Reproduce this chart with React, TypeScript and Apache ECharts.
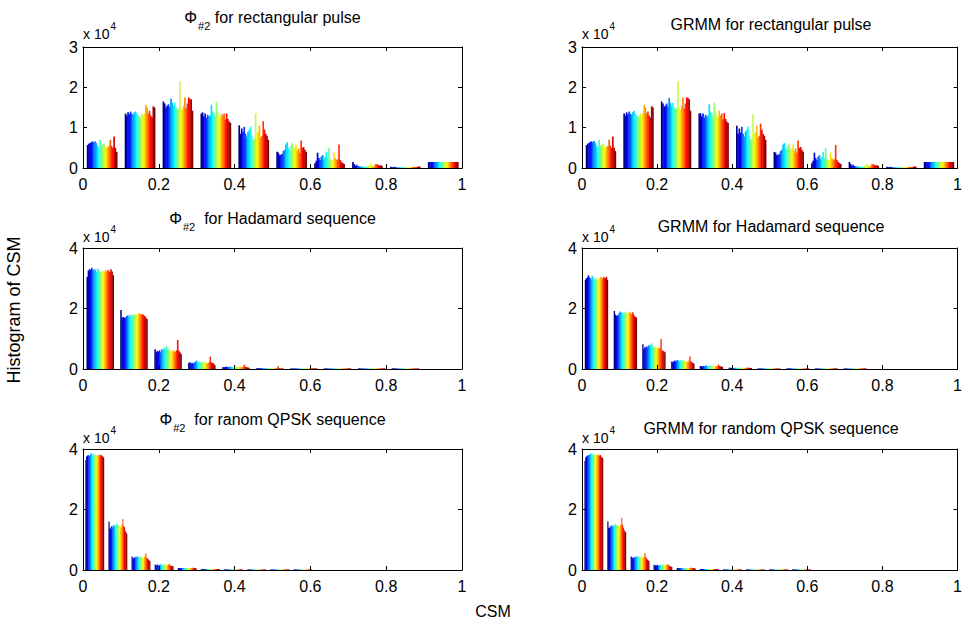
import React, { useEffect, useRef } from "react";
import * as echarts from "echarts";

// ---------------- data (counts in units of 10^4) ----------------
const N_SERIES = 24;
const X_MIN = 0;
const X_MAX = 1;
const X_STEP = 0.2;

// bin centres of each histogram
const RECT_CENTERS = [0.05, 0.15, 0.25, 0.35, 0.45, 0.55, 0.65, 0.75, 0.85, 0.95];
const RECT_BIN_WIDTH = 0.1;
const HAD_PHI_CENTERS = [0.045, 0.134, 0.224, 0.313, 0.403, 0.492, 0.582, 0.671, 0.761, 0.85];
const HAD_PHI_BIN_WIDTH = 0.0895;
const HAD_GRMM_CENTERS = [0.038, 0.115, 0.191, 0.268, 0.344, 0.421, 0.497, 0.574, 0.65, 0.727];
const HAD_GRMM_BIN_WIDTH = 0.0765;
const QPSK_PHI_CENTERS = [0.0305, 0.0915, 0.1525, 0.2135, 0.2745, 0.3355, 0.3965, 0.4575, 0.5185, 0.5795];
const QPSK_PHI_BIN_WIDTH = 0.061;
const QPSK_GRMM_CENTERS = [0.031, 0.092, 0.154, 0.215, 0.277, 0.338, 0.4, 0.461, 0.523, 0.584];
const QPSK_GRMM_BIN_WIDTH = 0.0615;

// one row per bin, one value per series
const RECT_PHI = [
  [0.57, 0.6, 0.62, 0.64, 0.66, 0.64, 0.66, 0.62, 0.55, 0.5, 0.7, 0.55, 0.58, 0.6, 0.55, 0.5, 0.52, 0.55, 0.7, 0.55, 0.5, 0.78, 0.5, 0.4],
  [1.35, 1.3, 1.38, 1.33, 1.4, 1.35, 1.32, 1.38, 1.4, 1.35, 1.3, 1.28, 1.25, 1.35, 1.3, 1.35, 1.57, 1.5, 1.35, 1.42, 1.3, 1.25, 1.53, 1.5],
  [1.65, 1.6, 1.5, 1.55, 1.58, 1.52, 1.72, 1.62, 1.55, 1.62, 1.5, 1.45, 1.48, 2.15, 1.5, 1.45, 1.55, 1.75, 1.48, 1.6, 1.75, 1.72, 1.7, 1.42],
  [1.35, 1.38, 1.28, 1.35, 1.25, 1.32, 1.28, 1.3, 1.57, 1.4, 1.35, 1.28, 1.64, 1.4, 1.3, 1.25, 1.35, 1.3, 1.35, 1.2, 1.35, 1.22, 1.15, 1.12],
  [1.06, 0.85, 0.98, 0.9, 1.02, 0.85, 0.78, 0.9, 0.95, 1.03, 0.8, 0.7, 0.72, 1.36, 0.85, 0.9, 1.05, 0.75, 0.8, 1.16, 0.95, 0.85, 0.8, 0.7],
  [0.4, 0.38, 0.32, 0.33, 0.35, 0.42, 0.45, 0.58, 0.64, 0.5, 0.45, 0.55, 0.63, 0.45, 0.5, 0.58, 0.42, 0.48, 0.38, 0.68, 0.5, 0.52, 0.45, 0.4],
  [0.12, 0.18, 0.38, 0.25, 0.2, 0.28, 0.32, 0.22, 0.28, 0.4, 0.25, 0.5, 0.22, 0.2, 0.18, 0.38, 0.25, 0.2, 0.22, 0.58, 0.2, 0.15, 0.12, 0.1],
  [0.15, 0.1, 0.06, 0.08, 0.05, 0.04, 0.03, 0.04, 0.03, 0.04, 0.03, 0.03, 0.05, 0.06, 0.12, 0.06, 0.05, 0.04, 0.1, 0.09, 0.08, 0.06, 0.07, 0.05],
  [0.03, 0.02, 0.02, 0.03, 0.02, 0.02, 0.01, 0.02, 0.02, 0.01, 0.02, 0.02, 0.01, 0.02, 0.02, 0.01, 0.02, 0.02, 0.03, 0.02, 0.02, 0.03, 0.04, 0.03],
  [0.15, 0.15, 0.15, 0.15, 0.15, 0.15, 0.15, 0.15, 0.15, 0.15, 0.15, 0.15, 0.15, 0.15, 0.15, 0.15, 0.15, 0.15, 0.15, 0.15, 0.15, 0.15, 0.15, 0.15],
];

const RECT_GRMM = [
  [0.57, 0.6, 0.62, 0.65, 0.66, 0.64, 0.67, 0.62, 0.55, 0.5, 0.7, 0.55, 0.58, 0.6, 0.55, 0.5, 0.52, 0.55, 0.7, 0.55, 0.5, 0.78, 0.5, 0.42],
  [1.35, 1.3, 1.38, 1.33, 1.4, 1.35, 1.32, 1.38, 1.42, 1.35, 1.3, 1.28, 1.25, 1.35, 1.3, 1.35, 1.57, 1.5, 1.35, 1.4, 1.3, 1.25, 1.53, 1.5],
  [1.65, 1.6, 1.52, 1.55, 1.6, 1.52, 1.74, 1.62, 1.55, 1.62, 1.5, 1.45, 1.48, 2.15, 1.5, 1.45, 1.55, 1.75, 1.48, 1.6, 1.75, 1.74, 1.7, 1.42],
  [1.35, 1.36, 1.28, 1.35, 1.25, 1.32, 1.28, 1.3, 1.58, 1.4, 1.35, 1.28, 1.62, 1.4, 1.3, 1.25, 1.42, 1.3, 1.35, 1.2, 1.36, 1.22, 1.15, 1.12],
  [1.05, 0.85, 0.98, 0.88, 1.02, 0.85, 0.78, 0.9, 0.95, 1.03, 0.8, 0.7, 0.72, 1.33, 0.85, 0.9, 1.05, 0.75, 0.8, 1.1, 0.95, 0.85, 0.8, 0.7],
  [0.4, 0.38, 0.32, 0.33, 0.35, 0.42, 0.45, 0.58, 0.62, 0.5, 0.45, 0.55, 0.6, 0.45, 0.5, 0.58, 0.42, 0.48, 0.38, 0.68, 0.5, 0.52, 0.45, 0.4],
  [0.12, 0.18, 0.38, 0.25, 0.2, 0.28, 0.32, 0.22, 0.28, 0.4, 0.25, 0.5, 0.22, 0.2, 0.18, 0.38, 0.25, 0.2, 0.22, 0.57, 0.2, 0.15, 0.12, 0.1],
  [0.15, 0.1, 0.06, 0.08, 0.05, 0.04, 0.03, 0.04, 0.03, 0.04, 0.03, 0.03, 0.05, 0.06, 0.1, 0.06, 0.05, 0.04, 0.1, 0.09, 0.08, 0.06, 0.07, 0.05],
  [0.03, 0.02, 0.02, 0.03, 0.02, 0.02, 0.01, 0.02, 0.02, 0.01, 0.02, 0.02, 0.01, 0.02, 0.02, 0.01, 0.02, 0.02, 0.03, 0.02, 0.02, 0.03, 0.04, 0.03],
  [0.15, 0.15, 0.15, 0.15, 0.15, 0.15, 0.15, 0.15, 0.15, 0.15, 0.15, 0.15, 0.15, 0.15, 0.15, 0.15, 0.15, 0.15, 0.15, 0.15, 0.15, 0.15, 0.15, 0.15],
];

const HAD_PHI = [
  [3.05, 3.25, 3.3, 3.28, 3.35, 3.3, 3.25, 3.3, 3.2, 3.32, 3.28, 3.22, 3.18, 3.22, 3.25, 3.2, 3.26, 3.22, 3.28, 3.25, 3.2, 3.3, 3.22, 3.1],
  [1.95, 1.7, 1.72, 1.7, 1.7, 1.75, 1.78, 1.72, 1.8, 1.75, 1.78, 1.8, 1.78, 1.82, 1.8, 1.78, 1.85, 1.82, 1.8, 1.82, 1.78, 1.75, 1.7, 1.65],
  [0.65, 0.55, 0.6, 0.58, 0.62, 0.55, 0.65, 0.62, 0.7, 0.65, 0.76, 0.7, 0.65, 0.6, 0.55, 0.62, 0.58, 0.6, 0.55, 0.62, 0.96, 0.6, 0.55, 0.5],
  [0.2, 0.22, 0.18, 0.2, 0.18, 0.22, 0.25, 0.28, 0.22, 0.25, 0.22, 0.2, 0.22, 0.25, 0.2, 0.22, 0.18, 0.2, 0.22, 0.41, 0.22, 0.2, 0.18, 0.12],
  [0.06, 0.07, 0.06, 0.08, 0.07, 0.06, 0.07, 0.08, 0.07, 0.06, 0.07, 0.08, 0.07, 0.06, 0.07, 0.08, 0.07, 0.06, 0.08, 0.14, 0.07, 0.06, 0.05, 0.04],
  [0.02, 0.03, 0.02, 0.03, 0.02, 0.03, 0.02, 0.03, 0.02, 0.03, 0.02, 0.03, 0.02, 0.03, 0.02, 0.03, 0.02, 0.03, 0.02, 0.09, 0.03, 0.02, 0.02, 0.02],
  [0.02, 0.02, 0.02, 0.02, 0.02, 0.02, 0.02, 0.02, 0.02, 0.02, 0.02, 0.02, 0.02, 0.02, 0.02, 0.02, 0.02, 0.02, 0.02, 0.03, 0.02, 0.02, 0.02, 0.02],
  [0.02, 0.02, 0.02, 0.02, 0.02, 0.02, 0.02, 0.02, 0.02, 0.02, 0.02, 0.02, 0.02, 0.02, 0.02, 0.02, 0.02, 0.02, 0.02, 0.02, 0.02, 0.02, 0.02, 0.02],
  [0.02, 0.02, 0.02, 0.02, 0.02, 0.02, 0.02, 0.02, 0.02, 0.02, 0.02, 0.02, 0.02, 0.02, 0.02, 0.02, 0.02, 0.02, 0.02, 0.02, 0.02, 0.02, 0.02, 0.02],
  [0.02, 0.02, 0.02, 0.02, 0.02, 0.02, 0.02, 0.02, 0.02, 0.02, 0.02, 0.02, 0.02, 0.02, 0.02, 0.02, 0.02, 0.02, 0.02, 0.02, 0.02, 0.02, 0.02, 0.02],
];

const HAD_GRMM = [
  [2.95, 3.0, 3.02, 3.1, 3.05, 3.0, 2.95, 3.08, 3.02, 2.95, 3.0, 2.92, 2.98, 3.02, 2.95, 3.0, 3.05, 3.02, 2.98, 3.05, 3.02, 3.0, 3.05, 2.95],
  [1.92, 1.8, 1.75, 1.78, 1.78, 1.85, 1.9, 1.85, 1.88, 1.85, 1.82, 1.88, 1.85, 1.88, 1.82, 1.85, 1.9, 1.85, 1.8, 1.88, 1.82, 1.75, 1.72, 1.7],
  [0.82, 0.65, 0.72, 0.7, 0.75, 0.72, 0.78, 0.8, 0.75, 0.85, 0.8, 0.72, 0.7, 0.75, 0.72, 0.65, 0.7, 0.68, 0.7, 0.99, 0.62, 0.6, 0.58, 0.55],
  [0.25, 0.22, 0.25, 0.28, 0.26, 0.28, 0.3, 0.28, 0.25, 0.3, 0.28, 0.25, 0.3, 0.28, 0.25, 0.22, 0.25, 0.22, 0.28, 0.41, 0.25, 0.22, 0.2, 0.18],
  [0.1, 0.09, 0.08, 0.1, 0.09, 0.1, 0.12, 0.1, 0.09, 0.1, 0.11, 0.1, 0.09, 0.08, 0.1, 0.09, 0.08, 0.1, 0.09, 0.15, 0.1, 0.09, 0.08, 0.07],
  [0.04, 0.04, 0.03, 0.04, 0.04, 0.03, 0.04, 0.04, 0.03, 0.04, 0.04, 0.03, 0.04, 0.04, 0.03, 0.04, 0.04, 0.03, 0.04, 0.05, 0.04, 0.03, 0.04, 0.03],
  [0.02, 0.02, 0.02, 0.02, 0.02, 0.02, 0.02, 0.02, 0.02, 0.02, 0.02, 0.02, 0.02, 0.02, 0.02, 0.02, 0.02, 0.02, 0.02, 0.03, 0.02, 0.02, 0.02, 0.02],
  [0.02, 0.02, 0.02, 0.02, 0.02, 0.02, 0.02, 0.02, 0.02, 0.02, 0.02, 0.02, 0.02, 0.02, 0.02, 0.02, 0.02, 0.02, 0.02, 0.02, 0.02, 0.02, 0.02, 0.02],
  [0.02, 0.02, 0.02, 0.02, 0.02, 0.02, 0.02, 0.02, 0.02, 0.02, 0.02, 0.02, 0.02, 0.02, 0.02, 0.02, 0.02, 0.02, 0.02, 0.02, 0.02, 0.02, 0.02, 0.02],
  [0.02, 0.02, 0.02, 0.02, 0.02, 0.02, 0.02, 0.02, 0.02, 0.02, 0.02, 0.02, 0.02, 0.02, 0.02, 0.02, 0.02, 0.02, 0.02, 0.02, 0.02, 0.02, 0.02, 0.02],
];

const QPSK_PHI = [
  [3.64, 3.75, 3.78, 3.8, 3.75, 3.78, 3.82, 3.85, 3.8, 3.86, 3.8, 3.78, 3.82, 3.8, 3.75, 3.82, 3.78, 3.8, 3.82, 3.78, 3.8, 3.78, 3.75, 3.72],
  [1.6, 1.4, 1.35, 1.45, 1.38, 1.45, 1.48, 1.42, 1.5, 1.45, 1.55, 1.48, 1.5, 1.45, 1.48, 1.42, 1.4, 1.5, 1.69, 1.45, 1.42, 1.3, 1.25, 1.2],
  [0.45, 0.4, 0.38, 0.42, 0.4, 0.45, 0.42, 0.45, 0.44, 0.42, 0.4, 0.45, 0.42, 0.4, 0.42, 0.4, 0.45, 0.42, 0.55, 0.4, 0.38, 0.35, 0.32, 0.3],
  [0.18, 0.15, 0.16, 0.18, 0.16, 0.15, 0.17, 0.18, 0.16, 0.18, 0.16, 0.15, 0.18, 0.2, 0.16, 0.17, 0.15, 0.18, 0.2, 0.16, 0.15, 0.13, 0.12, 0.12],
  [0.07, 0.07, 0.06, 0.07, 0.07, 0.06, 0.07, 0.07, 0.06, 0.07, 0.07, 0.06, 0.07, 0.07, 0.06, 0.07, 0.07, 0.06, 0.08, 0.07, 0.06, 0.07, 0.06, 0.05],
  [0.03, 0.03, 0.03, 0.03, 0.03, 0.03, 0.03, 0.03, 0.03, 0.03, 0.03, 0.03, 0.03, 0.03, 0.03, 0.03, 0.03, 0.03, 0.03, 0.03, 0.03, 0.03, 0.03, 0.03],
  [0.02, 0.02, 0.02, 0.02, 0.02, 0.02, 0.02, 0.02, 0.02, 0.02, 0.02, 0.02, 0.02, 0.02, 0.02, 0.02, 0.02, 0.02, 0.02, 0.02, 0.02, 0.02, 0.02, 0.02],
  [0.02, 0.02, 0.02, 0.02, 0.02, 0.02, 0.02, 0.02, 0.02, 0.02, 0.02, 0.02, 0.02, 0.02, 0.02, 0.02, 0.02, 0.02, 0.02, 0.02, 0.02, 0.02, 0.02, 0.02],
  [0.02, 0.02, 0.02, 0.02, 0.02, 0.02, 0.02, 0.02, 0.02, 0.02, 0.02, 0.02, 0.02, 0.02, 0.02, 0.02, 0.02, 0.02, 0.02, 0.02, 0.02, 0.02, 0.02, 0.02],
  [0.02, 0.02, 0.02, 0.02, 0.02, 0.02, 0.02, 0.02, 0.02, 0.02, 0.02, 0.02, 0.02, 0.02, 0.02, 0.02, 0.02, 0.02, 0.02, 0.02, 0.02, 0.02, 0.02, 0.02],
];

const QPSK_GRMM = [
  [3.6, 3.72, 3.75, 3.78, 3.8, 3.75, 3.8, 3.85, 3.82, 3.86, 3.82, 3.78, 3.8, 3.82, 3.76, 3.8, 3.78, 3.82, 3.8, 3.76, 3.8, 3.75, 3.72, 3.7],
  [1.6, 1.4, 1.38, 1.45, 1.4, 1.48, 1.45, 1.42, 1.5, 1.48, 1.52, 1.48, 1.5, 1.45, 1.48, 1.42, 1.45, 1.5, 1.73, 1.5, 1.4, 1.32, 1.28, 1.25],
  [0.45, 0.42, 0.38, 0.4, 0.42, 0.44, 0.4, 0.45, 0.44, 0.42, 0.45, 0.44, 0.42, 0.4, 0.45, 0.42, 0.4, 0.48, 0.56, 0.42, 0.38, 0.35, 0.32, 0.3],
  [0.17, 0.16, 0.15, 0.16, 0.17, 0.16, 0.15, 0.16, 0.17, 0.16, 0.15, 0.16, 0.17, 0.18, 0.16, 0.15, 0.16, 0.18, 0.2, 0.15, 0.14, 0.12, 0.11, 0.1],
  [0.07, 0.07, 0.07, 0.06, 0.07, 0.07, 0.06, 0.07, 0.07, 0.06, 0.07, 0.07, 0.06, 0.07, 0.07, 0.06, 0.07, 0.07, 0.08, 0.06, 0.07, 0.06, 0.06, 0.05],
  [0.03, 0.03, 0.03, 0.03, 0.03, 0.03, 0.03, 0.03, 0.03, 0.03, 0.03, 0.03, 0.03, 0.03, 0.03, 0.03, 0.03, 0.03, 0.03, 0.03, 0.03, 0.03, 0.03, 0.03],
  [0.02, 0.02, 0.02, 0.02, 0.02, 0.02, 0.02, 0.02, 0.02, 0.02, 0.02, 0.02, 0.02, 0.02, 0.02, 0.02, 0.02, 0.02, 0.02, 0.02, 0.02, 0.02, 0.02, 0.02],
  [0.02, 0.02, 0.02, 0.02, 0.02, 0.02, 0.02, 0.02, 0.02, 0.02, 0.02, 0.02, 0.02, 0.02, 0.02, 0.02, 0.02, 0.02, 0.02, 0.02, 0.02, 0.02, 0.02, 0.02],
  [0.02, 0.02, 0.02, 0.02, 0.02, 0.02, 0.02, 0.02, 0.02, 0.02, 0.02, 0.02, 0.02, 0.02, 0.02, 0.02, 0.02, 0.02, 0.02, 0.02, 0.02, 0.02, 0.02, 0.02],
  [0.02, 0.02, 0.02, 0.02, 0.02, 0.02, 0.02, 0.02, 0.02, 0.02, 0.02, 0.02, 0.02, 0.02, 0.02, 0.02, 0.02, 0.02, 0.02, 0.02, 0.02, 0.02, 0.02, 0.02],
];

// ---------------- styling / layout ----------------
const FONT = "'Liberation Sans', Arial, Helvetica, sans-serif";
const GROUP_FRACTION = 0.8;
const PLOT_H = 121;

function clamp01(v: number) {
  return Math.max(0, Math.min(1, v));
}
function jet(t: number) {
  const r = clamp01(1.5 - Math.abs(4 * t - 3));
  const g = clamp01(1.5 - Math.abs(4 * t - 2));
  const b = clamp01(1.5 - Math.abs(4 * t - 1));
  return `rgb(${Math.round(r * 255)},${Math.round(g * 255)},${Math.round(b * 255)})`;
}
const COLORS = Array.from({ length: N_SERIES }, (_, i) => jet(i / (N_SERIES - 1)));

type Panel = {
  phi: boolean;
  title: string;
  data: number[][];
  centers: number[];
  binWidth: number;
  yMax: number;
  yInterval: number;
  left: number;
  top: number;
  width: number;
  titleY: number;
  expY: number;
};

const PANELS: Panel[] = [
  { phi: true, title: " for rectangular pulse", data: RECT_PHI, centers: RECT_CENTERS, binWidth: RECT_BIN_WIDTH, yMax: 3, yInterval: 1, left: 83, top: 47, width: 379, titleY: 9, expY: 21.5 },
  { phi: false, title: "GRMM for rectangular pulse", data: RECT_GRMM, centers: RECT_CENTERS, binWidth: RECT_BIN_WIDTH, yMax: 3, yInterval: 1, left: 582, top: 47, width: 378, titleY: 24, expY: 21.5 },
  { phi: true, title: "  for Hadamard sequence", data: HAD_PHI, centers: HAD_PHI_CENTERS, binWidth: HAD_PHI_BIN_WIDTH, yMax: 4, yInterval: 2, left: 83, top: 248, width: 379, titleY: 210, expY: 224.5 },
  { phi: false, title: "GRMM for Hadamard sequence", data: HAD_GRMM, centers: HAD_GRMM_CENTERS, binWidth: HAD_GRMM_BIN_WIDTH, yMax: 4, yInterval: 2, left: 582, top: 248, width: 378, titleY: 226, expY: 224.5 },
  { phi: true, title: "  for ranom QPSK sequence", data: QPSK_PHI, centers: QPSK_PHI_CENTERS, binWidth: QPSK_PHI_BIN_WIDTH, yMax: 4, yInterval: 2, left: 83, top: 449, width: 379, titleY: 411, expY: 425.5 },
  { phi: false, title: "GRMM for random QPSK sequence", data: QPSK_GRMM, centers: QPSK_GRMM_CENTERS, binWidth: QPSK_GRMM_BIN_WIDTH, yMax: 4, yInterval: 2, left: 582, top: 449, width: 378, titleY: 428, expY: 425.5 },
];

function buildOption() {
  const grid: any[] = [];
  const xAxis: any[] = [];
  const yAxis: any[] = [];
  const series: any[] = [];
  const graphic: any[] = [];

  const axisLine = { show: true, onZero: false, lineStyle: { color: "#000", width: 1 } };
  const axisTick = { show: true, inside: true, length: 4, lineStyle: { color: "#000", width: 1 } };

  PANELS.forEach((p, i) => {
    grid.push({ left: p.left, top: p.top, width: p.width, height: PLOT_H, containLabel: false });
    const xBase = {
      type: "value",
      gridIndex: i,
      min: X_MIN,
      max: X_MAX,
      interval: X_STEP,
      axisLine,
      axisTick,
      splitLine: { show: false },
      z: 5,
    };
    xAxis.push({
      ...xBase,
      position: "bottom",
      axisLabel: { color: "#000", fontSize: 16, fontFamily: FONT, margin: 8 },
    });
    xAxis.push({ ...xBase, position: "top", axisLabel: { show: false } });
    const yBase = {
      type: "value",
      gridIndex: i,
      min: 0,
      max: p.yMax,
      interval: p.yInterval,
      axisLine,
      axisTick,
      splitLine: { show: false },
      z: 5,
    };
    yAxis.push({
      ...yBase,
      position: "left",
      axisLabel: { color: "#000", fontSize: 16, fontFamily: FONT, margin: 5 },
    });
    yAxis.push({ ...yBase, position: "right", axisLabel: { show: false } });

    const items: number[][] = [];
    p.data.forEach((row, b) => {
      row.forEach((v, s) => items.push([p.centers[b], s, v]));
    });
    const groupW = p.binWidth * GROUP_FRACTION;
    const barW = groupW / N_SERIES;
    series.push({
      type: "custom",
      coordinateSystem: "cartesian2d",
      xAxisIndex: 2 * i,
      yAxisIndex: 2 * i,
      silent: true,
      encode: { x: 0, y: 2 },
      data: items,
      renderItem: (params: any, api: any) => {
        const c = api.value(0);
        const s = api.value(1);
        const v = api.value(2);
        const x0 = c - groupW / 2 + s * barW;
        const p1 = api.coord([x0, v]);
        const p2 = api.coord([x0 + barW, 0]);
        return {
          type: "rect",
          shape: { x: p1[0], y: p1[1], width: p2[0] - p1[0] + 0.4, height: p2[1] - p1[1] },
          style: { fill: COLORS[s] },
        };
      },
    });

    const cx = p.left + p.width / 2;
    if (p.phi) {
      graphic.push({
        type: "text",
        x: cx,
        y: p.titleY,
        silent: true,
        style: {
          text: `{a|Φ}{b|#2}{a|${p.title}}`,
          textAlign: "center",
          align: "center",
          textVerticalAlign: "top",
          verticalAlign: "top",
          fill: "#000",
          rich: {
            a: { fontSize: 16, fontFamily: FONT, fill: "#000", color: "#000", verticalAlign: "top" },
            b: { fontSize: 11, fontFamily: FONT, fill: "#000", color: "#000", verticalAlign: "top", padding: [11, 0, 0, 1] },
          },
        },
      });
    } else {
      graphic.push({
        type: "text",
        x: cx,
        y: p.titleY,
        silent: true,
        style: {
          text: p.title,
          font: `16px ${FONT}`,
          fill: "#000",
          textAlign: "center",
          align: "center",
          textVerticalAlign: "middle",
          verticalAlign: "middle",
        },
      });
    }
    graphic.push({
      type: "text",
      x: p.left,
      y: p.expY,
      silent: true,
      style: {
        text: "{m|x 10}{e|4}",
        textAlign: "left",
        align: "left",
        textVerticalAlign: "top",
        verticalAlign: "top",
        fill: "#000",
        rich: {
          m: { fontSize: 14, fontFamily: FONT, fill: "#000", color: "#000", verticalAlign: "bottom" },
          e: { fontSize: 10, fontFamily: FONT, fill: "#000", color: "#000", verticalAlign: "top", padding: [0, 0, 9, 1] },
        },
      },
    });
  });

  graphic.push({
    type: "text",
    x: 14,
    y: 310,
    rotation: Math.PI / 2,
    silent: true,
    style: {
      text: "Histogram of CSM",
      font: `18px ${FONT}`,
      fill: "#000",
      textAlign: "center",
      align: "center",
      textVerticalAlign: "middle",
      verticalAlign: "middle",
    },
  });
  graphic.push({
    type: "text",
    x: 493,
    y: 611,
    silent: true,
    style: {
      text: "CSM",
      font: `16px ${FONT}`,
      fill: "#000",
      textAlign: "center",
      align: "center",
      textVerticalAlign: "middle",
      verticalAlign: "middle",
    },
  });

  return {
    animation: false,
    backgroundColor: "#fff",
    grid,
    xAxis,
    yAxis,
    series,
    graphic,
  };
}

export default function App() {
  const ref = useRef<HTMLDivElement>(null);
  useEffect(() => {
    if (!ref.current) return;
    const chart = echarts.init(ref.current, null, { renderer: "svg" });
    chart.setOption(buildOption() as any);
    return () => chart.dispose();
  }, []);
  return (
    <div
      ref={ref}
      style={{ position: "fixed", left: 0, top: 0, width: 965, height: 627, background: "#fff" }}
    />
  );
}
